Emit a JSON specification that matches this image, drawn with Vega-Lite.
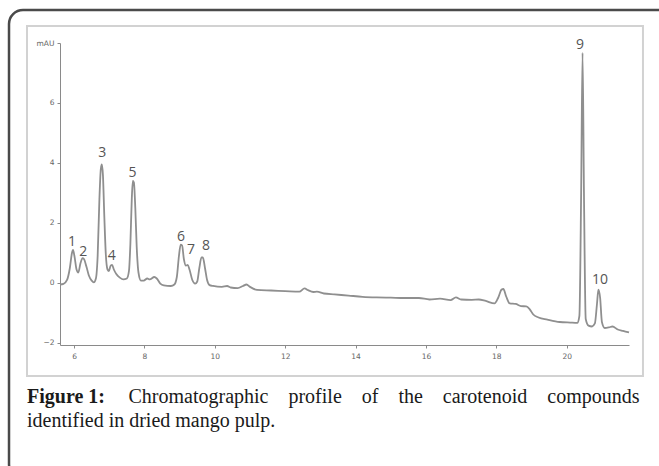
{
  "$schema": "https://vega.github.io/schema/vega-lite/v6.json",
  "width": 569,
  "height": 302,
  "autosize": "none",
  "padding": {"left": 60, "top": 43, "right": 30, "bottom": 121},
  "background": "white",
  "config": {"view": {"stroke": null}},
  "title": {
    "text": "Figure 1:",
    "subtitle": "identified in dried mango pulp.",
    "orient": "top", "anchor": "start", "frame": "group", "offset": 0,
    "dx": -33, "dy": 422,
    "font": "Liberation Serif", "fontSize": 20, "fontWeight": "bold", "color": "#1a1a1a",
    "subtitleFont": "Liberation Serif", "subtitleFontSize": 20, "subtitleFontWeight": "normal",
    "subtitleColor": "#1a1a1a", "subtitlePadding": 4
  },
  "datasets": {
    "trace": [
      {"t": 5.6, "v": -0.05}, {"t": 5.7, "v": -0.03}, {"t": 5.8, "v": 0.1}, {"t": 5.88, "v": 0.5},
      {"t": 5.94, "v": 1.0}, {"t": 5.97, "v": 1.1}, {"t": 6.01, "v": 0.9}, {"t": 6.07, "v": 0.45},
      {"t": 6.12, "v": 0.35}, {"t": 6.18, "v": 0.65}, {"t": 6.24, "v": 0.83}, {"t": 6.28, "v": 0.8},
      {"t": 6.35, "v": 0.55}, {"t": 6.42, "v": 0.25}, {"t": 6.5, "v": 0.08}, {"t": 6.56, "v": 0.02},
      {"t": 6.62, "v": 0.15}, {"t": 6.67, "v": 0.9}, {"t": 6.72, "v": 2.8}, {"t": 6.76, "v": 3.8},
      {"t": 6.79, "v": 3.95}, {"t": 6.82, "v": 3.6}, {"t": 6.86, "v": 2.2}, {"t": 6.9, "v": 1.0},
      {"t": 6.95, "v": 0.45}, {"t": 6.99, "v": 0.4}, {"t": 7.04, "v": 0.58}, {"t": 7.08, "v": 0.6},
      {"t": 7.13, "v": 0.45}, {"t": 7.2, "v": 0.3}, {"t": 7.3, "v": 0.18}, {"t": 7.4, "v": 0.12},
      {"t": 7.5, "v": 0.15}, {"t": 7.56, "v": 0.4}, {"t": 7.6, "v": 1.3}, {"t": 7.64, "v": 2.8},
      {"t": 7.67, "v": 3.4}, {"t": 7.7, "v": 3.35}, {"t": 7.74, "v": 2.5}, {"t": 7.78, "v": 1.2},
      {"t": 7.83, "v": 0.35}, {"t": 7.9, "v": 0.08}, {"t": 7.98, "v": 0.08}, {"t": 8.08, "v": 0.15},
      {"t": 8.15, "v": 0.12}, {"t": 8.28, "v": 0.2}, {"t": 8.35, "v": 0.15}, {"t": 8.45, "v": -0.02},
      {"t": 8.55, "v": -0.08}, {"t": 8.75, "v": -0.1}, {"t": 8.85, "v": -0.05}, {"t": 8.92, "v": 0.2},
      {"t": 8.98, "v": 0.9}, {"t": 9.03, "v": 1.28}, {"t": 9.07, "v": 1.25}, {"t": 9.12, "v": 0.8},
      {"t": 9.18, "v": 0.58}, {"t": 9.23, "v": 0.6}, {"t": 9.28, "v": 0.45}, {"t": 9.36, "v": 0.1},
      {"t": 9.44, "v": -0.02}, {"t": 9.5, "v": 0.05}, {"t": 9.56, "v": 0.5}, {"t": 9.62, "v": 0.85},
      {"t": 9.66, "v": 0.85}, {"t": 9.72, "v": 0.5}, {"t": 9.78, "v": 0.1}, {"t": 9.85, "v": -0.07},
      {"t": 9.95, "v": -0.1}, {"t": 10.2, "v": -0.13}, {"t": 10.35, "v": -0.1}, {"t": 10.45, "v": -0.15},
      {"t": 10.65, "v": -0.17}, {"t": 10.8, "v": -0.1}, {"t": 10.9, "v": -0.05}, {"t": 11.0, "v": -0.13},
      {"t": 11.2, "v": -0.23}, {"t": 11.6, "v": -0.25}, {"t": 12.0, "v": -0.27}, {"t": 12.4, "v": -0.29},
      {"t": 12.55, "v": -0.18}, {"t": 12.65, "v": -0.24}, {"t": 12.8, "v": -0.3}, {"t": 12.9, "v": -0.29},
      {"t": 13.1, "v": -0.35}, {"t": 13.4, "v": -0.38}, {"t": 13.8, "v": -0.42}, {"t": 14.2, "v": -0.46},
      {"t": 14.6, "v": -0.48}, {"t": 15.0, "v": -0.49}, {"t": 15.4, "v": -0.5}, {"t": 15.8, "v": -0.5},
      {"t": 16.1, "v": -0.55}, {"t": 16.4, "v": -0.52}, {"t": 16.7, "v": -0.57}, {"t": 16.85, "v": -0.48},
      {"t": 17.0, "v": -0.55}, {"t": 17.3, "v": -0.56}, {"t": 17.5, "v": -0.55}, {"t": 17.7, "v": -0.6},
      {"t": 17.95, "v": -0.68}, {"t": 18.05, "v": -0.5}, {"t": 18.15, "v": -0.22}, {"t": 18.2, "v": -0.2},
      {"t": 18.28, "v": -0.45}, {"t": 18.38, "v": -0.68}, {"t": 18.55, "v": -0.7}, {"t": 18.7, "v": -0.77},
      {"t": 18.85, "v": -0.78}, {"t": 18.95, "v": -0.88}, {"t": 19.05, "v": -1.05}, {"t": 19.2, "v": -1.15},
      {"t": 19.45, "v": -1.22}, {"t": 19.8, "v": -1.3}, {"t": 20.1, "v": -1.32}, {"t": 20.3, "v": -1.33},
      {"t": 20.36, "v": -1.1}, {"t": 20.41, "v": 3.0}, {"t": 20.45, "v": 7.67}, {"t": 20.49, "v": 3.0},
      {"t": 20.54, "v": -1.2}, {"t": 20.62, "v": -1.42}, {"t": 20.72, "v": -1.45}, {"t": 20.8, "v": -1.35},
      {"t": 20.86, "v": -0.7}, {"t": 20.9, "v": -0.22}, {"t": 20.95, "v": -0.5}, {"t": 21.0, "v": -1.3},
      {"t": 21.08, "v": -1.5}, {"t": 21.2, "v": -1.48}, {"t": 21.3, "v": -1.45}, {"t": 21.45, "v": -1.55},
      {"t": 21.6, "v": -1.6}, {"t": 21.77, "v": -1.65}
    ],
    "peaks": [
      {"t": 5.94, "v": 1.37, "label": "1"}, {"t": 6.26, "v": 1.03, "label": "2"},
      {"t": 6.8, "v": 4.33, "label": "3"}, {"t": 7.07, "v": 0.9, "label": "4"},
      {"t": 7.66, "v": 3.67, "label": "5"}, {"t": 9.04, "v": 1.53, "label": "6"},
      {"t": 9.32, "v": 1.1, "label": "7"}, {"t": 9.75, "v": 1.23, "label": "8"},
      {"t": 20.38, "v": 7.93, "label": "9"}, {"t": 20.945, "v": 0.1, "label": "10"}
    ]
  },
  "layer": [
    {
      "data": {"values": [{}]},
      "mark": {"type": "rect", "clip": false, "fill": null, "fillOpacity": 0, "stroke": "#d2d2d2", "strokeWidth": 2},
      "encoding": {
        "x": {"datum": 4.662, "type": "quantitative"},
        "x2": {"datum": 22.167},
        "y": {"datum": 8.567, "type": "quantitative"},
        "y2": {"datum": -3.1}
      }
    },
    {
      "data": {"values": [{}]},
      "mark": {"type": "rect", "clip": false, "fill": null, "fillOpacity": 0, "stroke": "#4a4a4a", "strokeWidth": 2.5, "cornerRadius": 14},
      "encoding": {
        "x": {"datum": 4.151, "type": "quantitative"},
        "x2": {"datum": 22.99},
        "y": {"datum": 9.1, "type": "quantitative"},
        "y2": {"datum": -6.5}
      }
    },
    {
      "data": {"name": "trace"},
      "mark": {"type": "line", "interpolate": "monotone", "stroke": "#8f8f8f", "strokeWidth": 1.8},
      "encoding": {
        "x": {
          "field": "t", "type": "quantitative",
          "scale": {"domain": [5.6, 21.77], "nice": false, "zero": false},
          "axis": {
            "values": [6, 6.5, 7, 7.5, 8, 8.5, 9, 9.5, 10, 10.5, 11, 11.5, 12, 12.5, 13, 13.5, 14, 14.5, 15, 15.5, 16, 16.5, 17, 17.5, 18, 18.5, 19, 19.5, 20, 20.5, 21, 21.5],
            "labelExpr": "datum.value == 21.5 ? 'min' : (datum.value % 2 == 0 ? datum.label : '')",
            "grid": false, "domainColor": "#8a8a8a", "tickColor": "#8a8a8a", "tickSize": 3,
            "labelFont": "DejaVu Sans", "labelFontSize": 7.5, "labelColor": "#666", "labelPadding": 4,
            "labelOverlap": false, "labelFlush": false,
            "title": "Chromatographic\u00a0\u00a0\u00a0\u00a0profile\u00a0\u00a0\u00a0\u00a0of\u00a0\u00a0\u00a0\u00a0the\u00a0\u00a0\u00a0\u00a0carotenoid\u00a0\u00a0\u00a0\u00a0compounds",
            "titleX": 68, "titleY": 57, "titleAlign": "left", "titleAnchor": "start", "titleBaseline": "alphabetic",
            "titleFont": "Liberation Serif", "titleFontSize": 20, "titleFontWeight": "normal", "titleColor": "#1a1a1a"
          }
        },
        "y": {
          "field": "v", "type": "quantitative",
          "scale": {"domain": [-2.067, 8], "nice": false, "zero": false},
          "axis": {
            "values": [-2, -1.5, -1, -0.5, 0, 0.5, 1, 1.5, 2, 2.5, 3, 3.5, 4, 4.5, 5, 5.5, 6, 6.5, 7, 7.5, 8],
            "labelExpr": "datum.value == 8 ? 'mAU' : (datum.value % 2 == 0 ? datum.label : '')",
            "grid": false, "domainColor": "#8a8a8a", "tickColor": "#8a8a8a", "tickSize": 3,
            "labelFont": "DejaVu Sans", "labelFontSize": 7.5, "labelColor": "#666", "labelPadding": 3,
            "labelOverlap": false, "labelFlush": false,
            "title": null
          }
        }
      }
    },
    {
      "data": {"name": "peaks"},
      "mark": {"type": "text", "font": "Open Sans", "fontSize": 14, "fill": "#555", "baseline": "middle", "align": "center"},
      "encoding": {
        "x": {"field": "t", "type": "quantitative"},
        "y": {"field": "v", "type": "quantitative"},
        "text": {"field": "label"}
      }
    }
  ]
}
